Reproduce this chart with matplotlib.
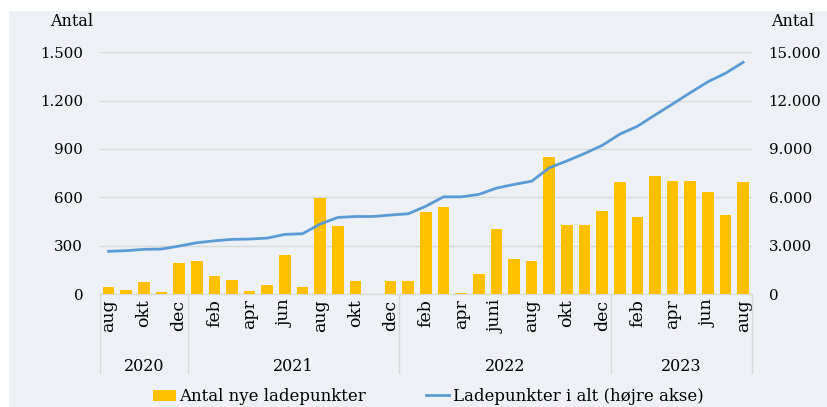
import matplotlib.pyplot as plt
import matplotlib.transforms as mtransforms
from matplotlib.patches import Rectangle
from matplotlib.ticker import FuncFormatter

# data (aug 2020 - aug 2023)
month_labels = ["aug", "", "okt", "", "dec",
                "", "feb", "", "apr", "", "jun", "", "aug", "", "okt", "", "dec",
                "", "feb", "", "apr", "", "juni", "", "aug", "", "okt", "", "dec",
                "", "feb", "", "apr", "", "jun", "", "aug"]
years = ["2020", "2021", "2022", "2023"]
months_per_year = [5, 12, 12, 8]
new_points = [45, 25, 74, 12, 192,
              205, 112, 89, 19, 56, 244, 43, 595, 420, 79, 0, 83,
              81, 510, 539, 4, 122, 403, 219, 203, 851, 426, 426, 514,
              694, 477, 733, 700, 700, 632, 490, 694]
total_points = [2650, 2690, 2770, 2790, 2975,
                3180, 3300, 3390, 3410, 3470, 3700, 3740, 4340, 4750, 4810, 4810, 4900,
                4980, 5450, 6030, 6030, 6180, 6570, 6800, 7000, 7830, 8260, 8720, 9220,
                9920, 10410, 11110, 11795, 12495, 13170, 13700, 14380]

bg = "#EDF1F5"
grid_col = "#D9D9D9"
plt.rcParams["font.family"] = ["DejaVu Serif"]
plt.rcParams["font.size"] = 11


def thousands(v, p):
    return "{:,.0f}".format(v).replace(",", ".")


fig = plt.figure(figsize=(8.28, 4.07), dpi=100, facecolor="white")
fig.patches.append(Rectangle((9 / 828, 0), 1, 1 - 11 / 407, transform=fig.transFigure,
                             facecolor=bg, edgecolor="none", zorder=-10))

ax = fig.add_axes([99.8 / 828, 1 - 294 / 407, (752 - 99.8) / 828, (294 - 52.3) / 407])
ax.set_facecolor("none")
x = list(range(len(new_points)))

bars = ax.bar(x, new_points, width=0.66, color="#FFC000", label="Antal nye ladepunkter", zorder=2)
ax.set_xlim(-0.5, len(x) - 0.5)
ax.set_ylim(0, 1500)
ax.set_yticks([0, 300, 600, 900, 1200, 1500])
ax.yaxis.set_major_formatter(FuncFormatter(thousands))
ax.grid(axis="y", color=grid_col, linewidth=1)
ax.set_axisbelow(True)
ax.set_xticks(x)
ax.set_xticklabels(month_labels, rotation=90, va="top", ha="center", fontsize=12.5)
ax.tick_params(axis="x", length=0, pad=4)
ax.tick_params(axis="y", length=0, pad=12, labelsize=10.8)
for s in ["top", "left", "right"]:
    ax.spines[s].set_visible(False)
ax.spines["bottom"].set_color(grid_col)

ax2 = ax.twinx()
line, = ax2.plot(x, total_points, color="#5B9BD5", linewidth=2, label="Ladepunkter i alt (højre akse)")
ax2.set_ylim(0, 15000)
ax2.set_yticks([0, 3000, 6000, 9000, 12000, 15000])
ax2.yaxis.set_major_formatter(FuncFormatter(thousands))
ax2.tick_params(axis="y", length=0, pad=12, labelsize=10.8)
for s in ["top", "left", "right", "bottom"]:
    ax2.spines[s].set_visible(False)

# year groups under the month labels
trans = mtransforms.blended_transform_factory(ax.transData, ax.transAxes)
start = -0.5
ax.plot([start, start], [0, -0.327], color=grid_col, lw=1, transform=trans, clip_on=False)
for year, n in zip(years, months_per_year):
    end = start + n
    ax.plot([end, end], [0, -0.327], color=grid_col, lw=1, transform=trans, clip_on=False)
    ax.text((start + end) / 2, -0.298, year, transform=trans, ha="center", va="center", fontsize=11.5)
    start = end

fig.text(72 / 828, 1 - 21 / 407, "Antal", ha="center", va="center", fontsize=11.5)
fig.text(793 / 828, 1 - 21 / 407, "Antal", ha="center", va="center", fontsize=11.5)

fig.legend([bars, line], ["Antal nye ladepunkter", "Ladepunkter i alt (højre akse)"],
           loc="center", bbox_to_anchor=(0.517, 0.025), ncol=2, frameon=False,
           fontsize=12, handlelength=1.4, handletextpad=0.2, columnspacing=3.6)

plt.savefig("out.png", dpi=100, facecolor=fig.get_facecolor())
